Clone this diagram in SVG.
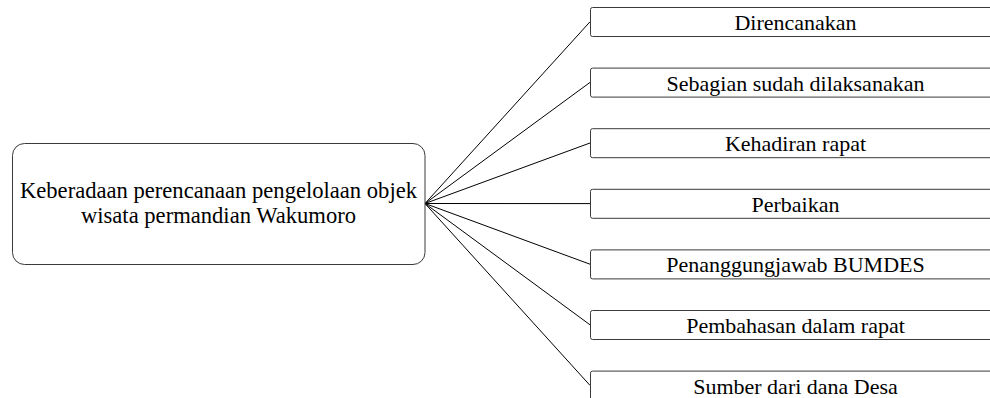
<svg xmlns="http://www.w3.org/2000/svg" width="990" height="398" viewBox="0 0 990 398">
<style>
.bg{fill:#fff}
.box{fill:#fff;stroke:#3a3a3a;stroke-width:1}
.t{font-family:"Liberation Serif","Times New Roman",serif;font-size:22px;fill:#000;text-anchor:middle}
.tm{font-size:22.6px}
.c{stroke:#000;stroke-width:1;fill:none}
</style>
<rect class="bg" x="0" y="0" width="990" height="398"/>
<g id="connectors">
<line class="c" x1="425" y1="203.5" x2="590" y2="21.8"/>
<line class="c" x1="425" y1="203.5" x2="590" y2="82.4"/>
<line class="c" x1="425" y1="203.5" x2="590" y2="143"/>
<line class="c" x1="425" y1="203.5" x2="590" y2="203.6"/>
<line class="c" x1="425" y1="203.5" x2="590" y2="264.2"/>
<line class="c" x1="425" y1="203.5" x2="590" y2="324.8"/>
<line class="c" x1="425" y1="203.5" x2="590" y2="385.4"/>
</g>
<g id="root">
<rect class="box" x="12.5" y="143.5" width="412.5" height="121" rx="12"/>
<text class="t tm" x="218.5" y="198">Keberadaan perencanaan pengelolaan objek</text>
<text class="t tm" x="218.5" y="223">wisata permandian Wakumoro</text>
</g>
<g id="n1">
<rect class="box" x="590.5" y="7.5" width="420" height="29" rx="2"/>
<text class="t" x="795.5" y="30">Direncanakan</text>
</g>
<g id="n2">
<rect class="box" x="590.5" y="68.1" width="420" height="29" rx="2"/>
<text class="t" x="795.5" y="90.6">Sebagian sudah dilaksanakan</text>
</g>
<g id="n3">
<rect class="box" x="590.5" y="128.7" width="420" height="29" rx="2"/>
<text class="t" x="795.5" y="151.2">Kehadiran rapat</text>
</g>
<g id="n4">
<rect class="box" x="590.5" y="189.3" width="420" height="29" rx="2"/>
<text class="t" x="795.5" y="211.8">Perbaikan</text>
</g>
<g id="n5">
<rect class="box" x="590.5" y="249.9" width="420" height="29" rx="2"/>
<text class="t" x="795.5" y="272.4">Penanggungjawab BUMDES</text>
</g>
<g id="n6">
<rect class="box" x="590.5" y="310.5" width="420" height="29" rx="2"/>
<text class="t" x="795.5" y="333">Pembahasan dalam rapat</text>
</g>
<g id="n7">
<rect class="box" x="590.5" y="371.1" width="420" height="29" rx="2"/>
<text class="t" x="795.5" y="393.6">Sumber dari dana Desa</text>
</g>
</svg>
